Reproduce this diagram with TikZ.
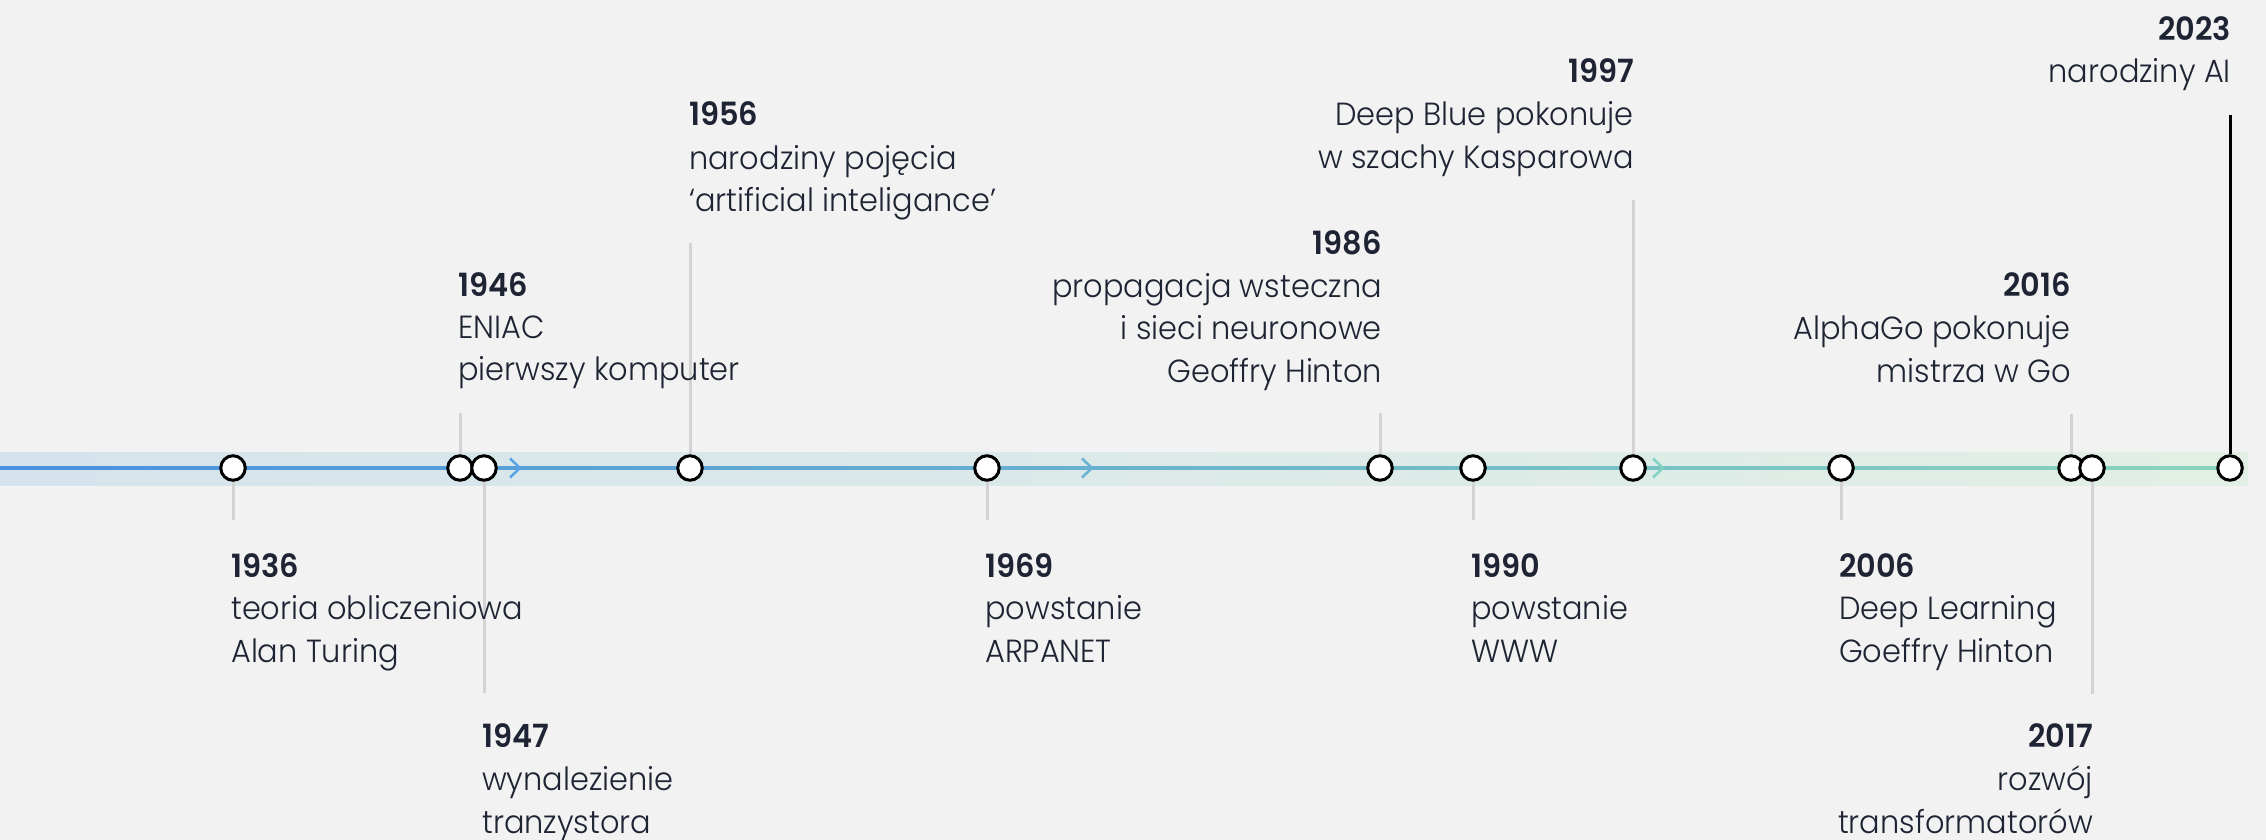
\documentclass[tikz,border=0pt]{standalone}
\usepackage{fontspec}
\setmainfont{Poppins Light}[FakeStretch=0.95, BoldFont={Poppins SemiBold}]
\definecolor{bg}{HTML}{F2F2F2}
\definecolor{txt}{HTML}{1E2433}
\definecolor{conn}{HTML}{D3D3D3}
\definecolor{bandL}{HTML}{D6E3EC}
\definecolor{bandR}{HTML}{E1EFE5}
\definecolor{lineL}{HTML}{4A8FE0}
\definecolor{lineR}{HTML}{88D5BC}
\definecolor{chevA}{HTML}{5AA2E6}
\definecolor{chevB}{HTML}{68B2D6}
\definecolor{chevC}{HTML}{80D2C2}
\begin{document}
\begin{tikzpicture}[x=1pt,y=-1pt,
  evdot/.style={circle, draw=black, fill=white, line width=3pt, minimum size=24.5pt, inner sep=0pt},
  stemline/.style={draw=conn, line width=3pt},
  yr/.style={font=\fontsize{32}{32}\selectfont\bfseries, text=txt, inner sep=0pt},
  lbl/.style={font=\fontsize{32}{32}\selectfont, text=txt, inner sep=0pt},
  chevron/.style={line width=2.5pt, line join=miter}]
\fill[bg] (0,0) rectangle (2266,840);
\useasboundingbox (0,0) rectangle (2266,840);
% band and main line
\shade[left color=bandL, right color=bandR] (0,452) rectangle (2248,485);
\shade[left color=lineL, right color=lineR] (0,466.5) rectangle (2230,469.5);
% chevrons
\coordinate (k1) at (520,468);
\coordinate (k2) at (1092,468);
\coordinate (k3) at (1663,468);
\draw[chevron, chevA] ([shift={(-10,-9.5)}]k1) -- (k1) -- ([shift={(-10,9.5)}]k1);
\draw[chevron, chevB] ([shift={(-10,-9.5)}]k2) -- (k2) -- ([shift={(-10,9.5)}]k2);
\draw[chevron, chevC] ([shift={(-10,-9.5)}]k3) -- (k3) -- ([shift={(-10,9.5)}]k3);
% event dots
\node[evdot] (c36) at (233,468) {};
\node[evdot] (c46) at (460,468) {};
\node[evdot] (c47) at (484,468) {};
\node[evdot] (c56) at (690,468) {};
\node[evdot] (c69) at (987,468) {};
\node[evdot] (c86) at (1380,468) {};
\node[evdot] (c90) at (1473,468) {};
\node[evdot] (c97) at (1633,468) {};
\node[evdot] (c06) at (1841,468) {};
\node[evdot] (c16) at (2071,468) {};
\node[evdot] (c17) at (2092,468) {};
\node[evdot] (c23) at (2230,468) {};
% stem end points
\coordinate (e36) at (233,520);
\coordinate (e46) at (460,413);
\coordinate (e47) at (484,693);
\coordinate (e56) at (690,243);
\coordinate (e69) at (987,520);
\coordinate (e86) at (1380,413);
\coordinate (e90) at (1473,520);
\coordinate (e97) at (1633,200);
\coordinate (e06) at (1841,520);
\coordinate (e16) at (2071,414);
\coordinate (e17) at (2092,694);
\coordinate (e23) at (2230,115);
\draw[stemline] (c36.south) -- (e36);
\draw[stemline] (c46.north) -- (e46);
\draw[stemline] (c47.south) -- (e47);
\draw[stemline] (c56.north) -- (e56);
\draw[stemline] (c69.south) -- (e69);
\draw[stemline] (c86.north) -- (e86);
\draw[stemline] (c90.south) -- (e90);
\draw[stemline] (c97.north) -- (e97);
\draw[stemline] (c06.south) -- (e06);
\draw[stemline] (c16.north) -- (e16);
\draw[stemline] (c17.south) -- (e17);
\draw[line width=3pt, black] (c23.north) -- (e23);
% labels: 1936
\node[yr, anchor=base west] (y36) at (231,577) {1936};
\node[lbl, anchor=base west] (a36) at (231,619) {teoria obliczeniowa};
\node[lbl, anchor=base west] (b36) at (231,662) {Alan Turing};
% 1946
\node[yr, anchor=base west] (y46) at (458,296) {1946};
\node[lbl, anchor=base west] (a46) at (458,338) {ENIAC};
\node[lbl, anchor=base west] (b46) at (458,380) {pierwszy komputer};
% 1947
\node[yr, anchor=base west] (y47) at (482,747) {1947};
\node[lbl, anchor=base west] (a47) at (482,790) {wynalezienie};
\node[lbl, anchor=base west] (b47) at (482,833) {tranzystora};
% 1956
\node[yr, anchor=base west] (y56) at (689,126) {1956};
\node[lbl, anchor=base west] (a56) at (689,169) {narodziny pojęcia};
\node[lbl, anchor=base west] (b56) at (689,211) {‘artificial inteligance’};
% 1969
\node[yr, anchor=base west] (y69) at (985,577) {1969};
\node[lbl, anchor=base west] (a69) at (985,619) {powstanie};
\node[lbl, anchor=base west] (b69) at (985,662) {ARPANET};
% 1986
\node[yr, anchor=base east] (y86) at (1382,254) {1986};
\node[lbl, anchor=base east] (a86) at (1382,297) {propagacja wsteczna};
\node[lbl, anchor=base east] (b86) at (1382,339) {i sieci neuronowe};
\node[lbl, anchor=base east] (d86) at (1382,382) {Geoffry Hinton};
% 1990
\node[yr, anchor=base west] (y90) at (1471,577) {1990};
\node[lbl, anchor=base west] (a90) at (1471,619) {powstanie};
\node[lbl, anchor=base west] (b90) at (1471,662) {WWW};
% 1997
\node[yr, anchor=base east] (y97) at (1634,83) {1997};
\node[lbl, anchor=base east] (a97) at (1634,125) {Deep Blue pokonuje};
\node[lbl, anchor=base east] (b97) at (1634,168) {w szachy Kasparowa};
% 2006
\node[yr, anchor=base west] (y06) at (1839,577) {2006};
\node[lbl, anchor=base west] (a06) at (1839,619) {Deep Learning};
\node[lbl, anchor=base west] (b06) at (1839,662) {Goeffry Hinton};
% 2016
\node[yr, anchor=base east] (y16) at (2071,296) {2016};
\node[lbl, anchor=base east] (a16) at (2071,339) {AlphaGo pokonuje};
\node[lbl, anchor=base east] (b16) at (2071,382) {mistrza w Go};
% 2017
\node[yr, anchor=base east] (y17) at (2093,747) {2017};
\node[lbl, anchor=base east] (a17) at (2093,790) {rozwój};
\node[lbl, anchor=base east] (b17) at (2093,833) {transformatorów};
% 2023
\node[yr, anchor=base east] (y23) at (2231,41) {2023};
\node[lbl, anchor=base east] (a23) at (2231,83) {narodziny AI};
\end{tikzpicture}
\end{document}
